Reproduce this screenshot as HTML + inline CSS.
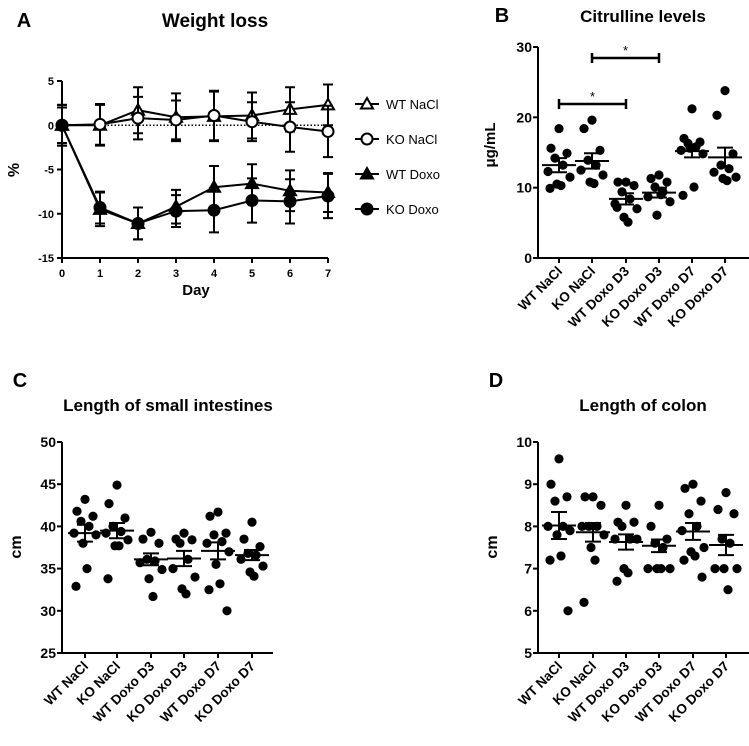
<!DOCTYPE html>
<html><head><meta charset="utf-8">
<style>
body{margin:0;background:#fff;}
svg{display:block;font-family:"Liberation Sans",Arial,sans-serif;}
text{fill:#000;}
.b{font-weight:bold;}
</style></head>
<body>
<svg id="fig" width="749" height="746" viewBox="0 0 749 746" xmlns="http://www.w3.org/2000/svg">
<g id="gA"></g>
<g id="gB"></g>
<g id="gC"></g>
<g id="gD"></g>
</svg>
<script>
// ---------- Panel A data ----------
const days = [0,1,2,3,4,5,6,7];
const dayTicks = ["0","1","2","3","4","5","6","7"];
const pctTicks = [5,0,-5,-10,-15];
const seriesNames = ["WT NaCl","KO NaCl","WT Doxo","KO Doxo"];
const wtNacl = [0,0,1.7,0.9,1.0,1.1,1.8,2.3];
const wtNaclErr = [2.3,2.3,2.6,2.7,2.8,2.6,2.5,2.3];
const koNacl = [0,0.1,0.8,0.6,1.1,0.4,-0.2,-0.7];
const koNaclErr = [2.3,2.3,2.4,2.2,2.8,2.2,2.8,2.9];
const wtDoxo = [0,-9.5,-11.1,-9.2,-7.0,-6.6,-7.4,-7.6];
const wtDoxoErr = [2.0,1.9,1.8,1.9,2.4,2.2,2.3,2.2];
const koDoxo = [0,-9.3,-11.1,-9.7,-9.6,-8.5,-8.6,-8.0];
const koDoxoErr = [2.0,1.8,1.8,1.8,2.5,2.5,2.5,2.5];

// ---------- Scatter panels data ----------
const groups = ["WT NaCl","KO NaCl","WT Doxo D3","KO Doxo D3","WT Doxo D7","KO Doxo D7"];
const citTicks = [0,10,20,30];
const citWtNacl = [18.4,15.6,14.9,14.2,13.2,12.3,11.5,10.5,10.3,9.9];
const citKoNacl = [19.6,18.4,15.3,13.9,13.2,12.5,11.8,10.8,10.6];
const citWtD3 = [10.8,10.8,10.3,9.4,8.4,7.7,7.0,5.8,5.1,7.2];
const citKoD3 = [11.8,11.3,10.8,10.1,9.4,8.7,8.0,6.1,9.0];
const citWtD7 = [21.2,17.0,16.5,16.3,15.8,15.3,14.8,15.6,10.1,8.9];
const citKoD7 = [23.8,20.3,14.8,13.2,12.7,12.2,11.5,11.3,11.0];
const citMean = [13.2,13.8,8.4,9.3,15.2,14.3];
const citSem = [1.0,1.1,0.8,0.7,0.9,1.4];

const siTicks = [25,30,35,40,45,50];
const siWtNacl = [43.2,41.8,41.2,40.6,40.0,39.2,39.0,38.0,35.0,32.9];
const siKoNacl = [44.9,42.7,41.0,40.0,39.4,39.2,38.4,37.7,37.7,33.8];
const siWtD3 = [39.3,38.5,38.0,36.1,35.9,35.7,34.9,33.8,31.7];
const siKoD3 = [39.2,38.5,38.4,38.0,36.1,35.0,34.0,32.6,32.0];
const siWtD7 = [41.7,41.2,39.2,39.0,38.2,38.0,37.0,35.5,33.2,32.5,30.0];
const siKoD7 = [40.5,38.5,37.6,36.8,36.6,36.1,35.3,34.6,34.1];
const siMean = [39.2,39.5,36.1,36.2,37.1,36.6];
const siSem = [1.0,0.9,0.7,0.9,1.0,0.6];

const coTicks = [5,6,7,8,9,10];
const coWtNacl = [9.6,9.0,8.7,8.6,8.0,8.0,7.9,7.8,7.3,7.2,6.0];
const coKoNacl = [8.7,8.7,8.5,8.0,8.0,8.0,7.8,7.5,7.2,6.2];
const coWtD3 = [8.5,8.1,8.1,8.0,7.7,7.7,7.7,7.0,6.9,6.7];
const coKoD3 = [8.5,8.0,7.7,7.6,7.5,7.0,7.0,7.0,7.0];
const coWtD7 = [9.0,8.9,8.6,8.3,8.0,7.9,7.5,7.4,7.3,7.2,6.8];
const coKoD7 = [8.8,8.4,8.3,7.7,7.6,7.0,7.0,7.0,6.5];
const coMean = [8.02,7.86,7.63,7.54,7.88,7.56];
const coSem = [0.32,0.22,0.18,0.15,0.2,0.24];

const NS="http://www.w3.org/2000/svg";
function el(parent,tag,attrs,txt){const e=document.createElementNS(NS,tag);for(const k in attrs)e.setAttribute(k,attrs[k]);if(txt!==undefined)e.textContent=txt;parent.appendChild(e);return e;}
function lin(d0,d1,r0,r1){return v=>r0+(v-d0)*(r1-r0)/(d1-d0);}

// ---------- Panel A ----------
(function(){
const g=document.getElementById('gA');
const x=lin(0,7,62,328), y=lin(5,-15,81,258);
let t;
t=el(g,'text',{x:24,y:27,'font-size':20,class:'b','text-anchor':'middle'},'A');


t=el(g,'text',{x:215,y:27,'font-size':19,class:'b','text-anchor':'middle'},'Weight loss');


const ax=el(g,'path',{d:`M62,81 V258 H328`,stroke:'#000','stroke-width':2,fill:'none'});


pctTicks.forEach(v=>{
  el(g,'line',{x1:57,x2:62,y1:y(v),y2:y(v),stroke:'#000','stroke-width':2});
  const tl=el(g,'text',{x:54,y:y(v)+4,'font-size':11,class:'b','text-anchor':'end'},String(v));
  
  
});
days.forEach((d,i)=>{
  el(g,'line',{x1:x(d),x2:x(d),y1:258,y2:263,stroke:'#000','stroke-width':2});
  const tl=el(g,'text',{x:x(d),y:277,'font-size':11,class:'b','text-anchor':'middle'},dayTicks[i]);
  
  
});
t=el(g,'text',{x:196,y:295,'font-size':15,class:'b','text-anchor':'middle'},'Day');


t=el(g,'text',{x:0,y:0,'font-size':16,class:'b','text-anchor':'middle',transform:'translate(19,170) rotate(-90)'},'%');


const zl=el(g,'line',{x1:62,x2:328,y1:y(0),y2:y(0),stroke:'#000','stroke-width':1.5,'stroke-dasharray':'1.5,2'});


const S=[[wtNacl,wtNaclErr,'tri',false],[koNacl,koNaclErr,'circ',false],[wtDoxo,wtDoxoErr,'tri',true],[koDoxo,koDoxoErr,'circ',true]];
function marker(p,cx,cy,kind,filled){
  if(kind==='tri'){return el(p,'path',{d:`M${cx},${cy-6} L${cx+6},${cy+4.5} L${cx-6},${cy+4.5} Z`,fill:filled?'#000':'#fff',stroke:'#000','stroke-width':2});}
  return el(p,'circle',{cx:cx,cy:cy,r:5.5,fill:filled?'#000':'#fff',stroke:'#000','stroke-width':2});
}
S.forEach((s,si)=>{
  const sg=el(g,'g',{});
  
  
  s[0].forEach((v,i)=>{
    const cx=x(days[i]),hi=y(v+s[1][i]),lo=y(v-s[1][i]);
    el(sg,'path',{d:`M${cx},${hi}V${lo}M${cx-5},${hi}H${cx+5}M${cx-5},${lo}H${cx+5}`,stroke:'#000','stroke-width':2,fill:'none'});
  });
  el(sg,'polyline',{points:s[0].map((v,i)=>x(days[i])+','+y(v)).join(' '),fill:'none',stroke:'#000','stroke-width':2});
  s[0].forEach((v,i)=>{const m=marker(sg,x(days[i]),y(v),s[2],s[3]);
    
    });
  const ly=104+si*35;
  const lg=el(g,'g',{});
  
  
  el(lg,'line',{x1:355,x2:379,y1:ly,y2:ly,stroke:'#000','stroke-width':2});
  marker(lg,367,ly,s[2],s[3]);
  el(lg,'text',{x:386,y:ly+5,'font-size':13},seriesNames[si]);
});
})();

// ---------- Scatter panel helper ----------
function scatter(gid,o){
  const g=document.getElementById(gid);
  const y=lin(o.ymin,o.ymax,o.y0,o.y1);
  let t;
  t=el(g,'text',{x:o.lx,y:o.ly,'font-size':20,class:'b','text-anchor':'middle'},o.letter);
  
  
  t=el(g,'text',{x:o.tx,y:o.ty,'font-size':17,class:'b','text-anchor':'middle'},o.title);
  
  
  const ax=el(g,'path',{d:`M${o.ax},${o.y1} V${o.y0} H${o.axEnd}`,stroke:'#000','stroke-width':2,fill:'none'});
  
  
  o.ticks.forEach(v=>{
    el(g,'line',{x1:o.ax-5,x2:o.ax,y1:y(v),y2:y(v),stroke:'#000','stroke-width':2});
    const tl=el(g,'text',{x:o.ax-6,y:y(v)+5,'font-size':14,class:'b','text-anchor':'end'},String(v));
    
    
  });
  t=el(g,'text',{x:0,y:0,'font-size':o.ylabSize||16,class:'b','text-anchor':'middle',transform:`translate(${o.ylx},${o.yly}) rotate(-90)`},o.ylab);
  
  
  const jit=[0,-8,8,-4,4,-11,11,-2,2,-9,9];
  o.data.forEach((vals,gi)=>{
    const cx=o.cx[gi];
    el(g,'line',{x1:cx,x2:cx,y1:o.y0,y2:o.y0+5,stroke:'#000','stroke-width':2});
    const tl=el(g,'text',{x:0,y:0,'font-size':13.5,class:'b','text-anchor':'end',transform:`translate(${cx+4},${o.y0+14}) rotate(-45)`},groups[gi]);
    
    
    const sg=el(g,'g',{});
    
    
    vals.forEach((v,i)=>{
      const c=el(sg,'circle',{cx:cx+jit[i%jit.length],cy:y(v),r:4.6,fill:'#000'});
      
      
    });
    const m=o.mean[gi],s=o.sem[gi];
    el(sg,'path',{d:`M${cx-17},${y(m)}H${cx+17}M${cx},${y(m+s)}V${y(m-s)}M${cx-8},${y(m+s)}H${cx+8}M${cx-8},${y(m-s)}H${cx+8}`,stroke:'#000','stroke-width':2,fill:'none'});
  });
  return {g,y};
}

// ---------- Panel B ----------
(function(){
const r=scatter('gB',{letter:'B',lx:502,ly:22,title:'Citrulline levels',tx:643,ty:22,
  ymin:0,ymax:30,y0:258,y1:47,ax:538,axEnd:749,ticks:citTicks,ylab:'μg/mL',ylx:495,yly:145,ylabSize:15,
  cx:[559,592,626,659,692,725],
  data:[citWtNacl,citKoNacl,citWtD3,citKoD3,citWtD7,citKoD7],mean:citMean,sem:citSem});
const g=r.g;
[[592,659,58],[559,626,104]].forEach(b=>{
  const bg=el(g,'g',{});
  
  
  el(bg,'path',{d:`M${b[0]},${b[2]-5}V${b[2]+5}M${b[0]},${b[2]}H${b[1]}M${b[1]},${b[2]-5}V${b[2]+5}`,stroke:'#000','stroke-width':2.5,fill:'none'});
  el(bg,'text',{x:(b[0]+b[1])/2,y:b[2]-3,'font-size':13,'text-anchor':'middle'},'*');
});
})();

// ---------- Panel C ----------
scatter('gC',{letter:'C',lx:20,ly:387,title:'Length of small intestines',tx:168,ty:411,
  ymin:25,ymax:50,y0:653,y1:442,ax:62,axEnd:273,ticks:siTicks,ylab:'cm',ylx:21,yly:547,
  cx:[85,117,151,184,218,252],
  data:[siWtNacl,siKoNacl,siWtD3,siKoD3,siWtD7,siKoD7],mean:siMean,sem:siSem});

// ---------- Panel D ----------
scatter('gD',{letter:'D',lx:496,ly:387,title:'Length of colon',tx:643,ty:411,
  ymin:5,ymax:10,y0:653,y1:442,ax:538,axEnd:749,ticks:coTicks,ylab:'cm',ylx:497,yly:547,
  cx:[559,593,626,659,693,726],
  data:[coWtNacl,coKoNacl,coWtD3,coKoD3,coWtD7,coKoD7],mean:coMean,sem:coSem});
</script>
</body></html>
